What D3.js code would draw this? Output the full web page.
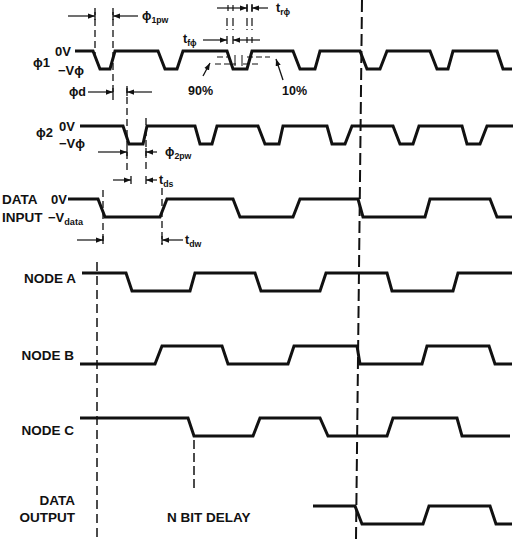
<!DOCTYPE html>
<html>
<head>
<meta charset="utf-8">
<script src="https://cdn.jsdelivr.net/npm/d3@7"></script>
<style>
  html, body { margin: 0; padding: 0; background: #fff; }
  svg { display: block; }
  text { font-family: "Liberation Sans", "DejaVu Sans", Arial, sans-serif; font-weight: bold; fill: #111; }
</style>
</head>
<body>
<svg id="chart" width="515" height="539"></svg>
<script>
// Two-phase shift register timing. Time in ns; level 1 = 0V, level 0 = negative rail.
// Each signal: start time, start level, transition edges [begin, end], stop time.
const phi1Edges = [[33,40],[50,55],[98,105],[117,123],[167,173],[187,192],[233,240],[255,260],[300,307],[320,327],[370,377],[388,393],[437,443]];
const phi2Edges = [[63,69],[83,87],[135,140],[152,157],[198,205],[219,223],[267,272],[285,292],[333,340],[353,359],[402,407],[420,427]];
const dataInEdges = [[38,45],[100,107],[173,180],[233,240],[298,303],[365,370],[430,437]];
const nodeAEdges = [[66,72],[130,135],[195,201],[260,266],[327,332],[393,398]];
const nodeBEdges = [[95,102],[162,168],[228,234],[297,300],[362,367],[429,435]];
const nodeCEdges = [[128,134],[193,200],[260,268],[327,333],[397,402]];
const dataOutEdges = [[295,302],[363,369],[430,436]];

const signalStart = [15, 20, 8, 22, 20, 20, 253];
const signalStop  = [452, 453, 452, 452, 452, 450, 452];
const signalInit  = [1, 1, 1, 1, 0, 1, 1];
const signalEdges = [phi1Edges, phi2Edges, dataInEdges, nodeAEdges, nodeBEdges, nodeCEdges, dataOutEdges];

// Reference markers (ns)
const strobeTime = [302, 296];          // clock strobe reference (top, bottom)
const nBitDelayTime = 134;
const dataStartTime = [43, 37];

// ---------- layout ----------
const svg = d3.select("#chart");
const x = d3.scaleLinear().domain([0, 455]).range([60, 515]);
const rowTop = [51, 126, 199, 273, 346, 418, 506];
const swing = 18;
const yLevel = d3.scaleLinear().domain([0, 1]).range([swing, 0]);

function wavePoints(i) {
  let lvl = signalInit[i];
  const pts = [[signalStart[i], lvl]];
  signalEdges[i].forEach(([a, b]) => {
    pts.push([a, lvl]);
    lvl = 1 - lvl;
    pts.push([b, lvl]);
  });
  pts.push([signalStop[i], lvl]);
  return pts;
}

const defs = svg.append("defs");
defs.append("marker").attr("id", "ah")
  .attr("viewBox", "0 0 8 6").attr("refX", 8).attr("refY", 3)
  .attr("markerWidth", 7).attr("markerHeight", 5.5)
  .attr("markerUnits", "userSpaceOnUse").attr("orient", "auto")
  .append("path").attr("d", "M0,0L8,3L0,6Z").attr("fill", "#111");

// ---------- waveforms ----------
const line = (i) => d3.line().x(d => x(d[0])).y(d => rowTop[i] + yLevel(d[1]));
svg.append("g").selectAll("path")
  .data(signalEdges.map((_, i) => i))
  .join("path")
  .attr("d", i => line(i)(wavePoints(i)))
  .attr("fill", "none").attr("stroke", "#111")
  .attr("stroke-width", 3).attr("stroke-linejoin", "miter");

// ---------- dashed reference lines ----------
const g = svg.append("g").attr("stroke", "#111").attr("fill", "none");
function vdash(t1, y1, y2, t2 = t1, dash = "7,4", w = 1.3) {
  g.append("line").attr("x1", x(t1)).attr("x2", x(t2)).attr("y1", y1).attr("y2", y2)
    .attr("stroke-width", w).attr("stroke-dasharray", dash);
}
vdash(strobeTime[0], 0, 539, strobeTime[1], "12,5", 2);
vdash(dataStartTime[0], 190, 245);
vdash(dataStartTime[1], 262, 539, dataStartTime[1], "9,5", 1.5);
vdash(nBitDelayTime, 440, 490, nBitDelayTime, "9,4", 1.5);
vdash(35, 8, 55);
vdash(53, 8, 100);
vdash(67, 86, 170);
vdash(86, 118, 170);
vdash(102, 188, 245);
[167, 173, 187, 192].forEach(t => vdash(t, 18, 30, t, "8,3", 1.2));
vdash(175, 55, 66, 175, "none", 1);
vdash(182, 55, 66, 182, "none", 1);

function hdash(t1, t2, y) {
  g.append("line").attr("x1", x(t1)).attr("x2", x(t2)).attr("y1", y).attr("y2", y)
    .attr("stroke-width", 1.2).attr("stroke-dasharray", "6,3");
}
hdash(157, 170, 57); hdash(187, 210, 57);
hdash(155, 176, 64); hdash(183, 200, 64);

// ---------- dimension arrows ----------
function arrow(tTail, tHead, y) {
  g.append("line").attr("x1", x(tTail)).attr("x2", x(tHead)).attr("y1", y).attr("y2", y)
    .attr("stroke-width", 1.2).attr("marker-end", "url(#ah)");
  g.append("line").attr("x1", x(tHead)).attr("x2", x(tHead)).attr("y1", y - 4).attr("y2", y + 4)
    .attr("stroke-width", 1.3);
}
arrow(8, 35, 16);  arrow(78, 53, 16);     // phi1 pulse width
arrow(28, 53, 92); arrow(92, 67, 92);     // phase delay
arrow(38, 67, 152); arrow(97, 86, 152);   // phi2 pulse width
arrow(53, 71, 180); arrow(97, 86, 180);   // data setup
arrow(17, 43, 240); arrow(123, 102, 240); // data width
arrow(157, 187, 8); arrow(208, 192, 8);   // rise time
arrow(143, 167, 40); arrow(183, 173, 40); // fall time
g.append("line").attr("x1", x(183)).attr("x2", x(200)).attr("y1", 40).attr("y2", 40).attr("stroke-width", 1.2);
[168, 173, 187, 192].forEach(t => g.append("line").attr("x1", x(t)).attr("x2", x(t)).attr("y1", 5).attr("y2", 11).attr("stroke-width", 1.2));
[187, 192].forEach(t => g.append("line").attr("x1", x(t)).attr("x2", x(t)).attr("y1", 37).attr("y2", 43).attr("stroke-width", 1.2));

// 90% / 10% pointers
g.append("line").attr("x1", x(143)).attr("y1", 76).attr("x2", x(150)).attr("y2", 63)
  .attr("stroke-width", 1.3).attr("marker-end", "url(#ah)");
g.append("line").attr("x1", x(223)).attr("y1", 80).attr("x2", x(216)).attr("y2", 59)
  .attr("stroke-width", 1.3).attr("marker-end", "url(#ah)");

// ---------- text ----------
const T = svg.append("g");
function label(txt, px, py, anchor = "start", size = 13, sub = null) {
  const t = T.append("text").attr("x", px).attr("y", py).attr("text-anchor", anchor)
    .attr("font-size", size).text(txt);
  if (sub) t.append("tspan").attr("font-size", size * 0.7).attr("dy", 3).text(sub);
  return t;
}
// signal names and rails
label("ϕ1", 33, 67, "start", 13);
label("0V", 71, 56, "end", 13);
label("−Vϕ", 84, 75, "end", 13);
label("ϕ2", 36, 137, "start", 13);
label("0V", 75, 131, "end", 13);
label("−Vϕ", 85, 148, "end", 13);
label("DATA", 2, 204, "start", 13.5);
label("0V", 67, 204, "end", 13);
label("INPUT", 2, 222, "start", 13.5);
label("−V", 48, 222, "start", 13, "data");
label("NODE A", 76, 283, "end", 13.5);
label("NODE B", 74, 360, "end", 13.5);
label("NODE C", 74, 435, "end", 13.5);
label("DATA", 75, 505, "end", 13.5);
label("OUTPUT", 75, 522, "end", 13.5);
label("N BIT DELAY", 167, 522, "start", 13.5);

// timing parameters
label("ϕ", 142, 20, "start", 12.5, "1pw");
label("ϕd", 86, 96, "end", 12.5);
label("ϕ", 165, 156, "start", 12.5, "2pw");
label("t", 159, 184, "start", 12.5, "ds");
label("t", 185, 244, "start", 12.5, "dw");
label("t", 276, 12, "start", 12.5, "rϕ");
label("t", 183, 43, "start", 12.5, "fϕ");
label("90%", 188, 95, "start", 12.5);
label("10%", 282, 95, "start", 12.5);
</script>
</body>
</html>
